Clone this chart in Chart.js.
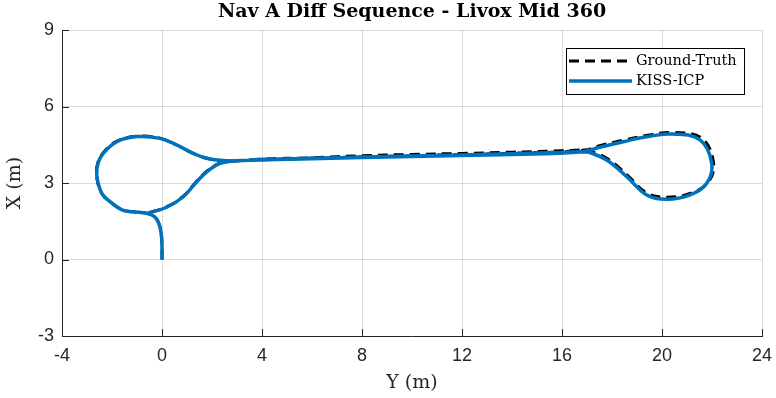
<html>
<head>
    <title>Nav A Diff Sequence</title>
    <style>
        body { margin: 0; background: #fff; }
        #wrap { width: 776px; height: 398px; }
    </style>
</head>
<body>
<div id="wrap"><canvas id="traj" width="776" height="398"></canvas></div>

<script src="https://cdn.jsdelivr.net/npm/chart.js@4.4.1/dist/chart.umd.min.js"></script>
<script>
    // trajectory, [Y (m), X (m)]
    const kiss_y = [0, 0.0, -0.03, -0.12, -0.3, -0.61, -1.15, -1.6, -2.08, -2.41, -2.61, -2.55, -2.35, -1.81, -1.01, -0.08, 0.59, 1.25, 1.79, 2.45, 3.2,
        4, 6, 8, 10, 12, 14, 16, 16.85, 17.12, 17.79, 18.59, 19.39, 20.19, 21.12, 21.79, 21.99, 21.52, 20.45, 19.5, 18.45, 17.5, 16.85,
        14, 10, 6, 3.2, 2.85, 2.32, 1.79, 1.39, 0.85, 0.19, -0.61];
    const kiss_x = [0, 0.5, 1.0, 1.4, 1.68, 1.81, 1.87, 1.95, 2.27, 2.6, 3.31, 3.8, 4.16, 4.62, 4.82, 4.75, 4.49, 4.16, 3.97, 3.88, 3.88,
        3.93, 3.97, 4.02, 4.06, 4.1, 4.15, 4.2, 4.23, 4.19, 3.9, 3.25, 2.53, 2.36, 2.53, 2.99, 3.77, 4.69, 4.92, 4.83, 4.62, 4.4, 4.23,
        4.12, 4.04, 3.95, 3.88, 3.86, 3.77, 3.44, 3.05, 2.46, 2.05, 1.81];

    const gt_y = [0, 0.0, -0.03, -0.12, -0.3, -0.61, -1.15, -1.6, -2.09, -2.42, -2.62, -2.56, -2.36, -1.82, -1.01, -0.08, 0.59, 1.25, 1.79, 2.45, 3.2,
        4, 6, 8, 10, 12, 14, 16, 16.9, 17.15, 17.82, 18.62, 19.4, 20.2, 21.15, 21.85, 22.06, 21.58, 20.45, 19.5, 18.45, 17.5, 16.9,
        14, 10, 6, 3.2, 2.85, 2.31, 1.78, 1.38, 0.84, 0.18, -0.61];
    const gt_x = [0, 0.5, 1.0, 1.4, 1.68, 1.81, 1.87, 1.95, 2.27, 2.6, 3.31, 3.81, 4.17, 4.63, 4.83, 4.76, 4.49, 4.16, 3.97, 3.88, 3.88,
        3.94, 3.99, 4.07, 4.12, 4.16, 4.21, 4.26, 4.29, 4.24, 3.95, 3.3, 2.6, 2.44, 2.6, 3.04, 3.8, 4.76, 4.98, 4.88, 4.68, 4.46, 4.29,
        4.17, 4.07, 3.97, 3.88, 3.86, 3.78, 3.45, 3.06, 2.47, 2.06, 1.81];

    const y_ticks = [-4, 0, 4, 8, 12, 16, 20, 24];
    const x_ticks = [-3, 0, 3, 6, 9];

    const series_labels = ['Ground-Truth', 'KISS-ICP'];

    function pts(a, b) {
        const out = [];
        for (let i = 0; i < a.length; i++) out.push({x: a[i], y: b[i]});
        return out;
    }

    const ink = '#262626';
    const serif = '"DejaVu Serif", serif';
    const sans = '"Liberation Sans", Arial, sans-serif';

    // MATLAB style inner ticks, title and legend box
    const extras = {
        id: 'extras',
        afterDatasetsDraw(chart) {
            const ctx = chart.ctx;
            const a = chart.chartArea;
            const sx = chart.scales.x, sy = chart.scales.y;
            ctx.save();
            ctx.strokeStyle = ink;
            ctx.lineWidth = 1;
            ctx.beginPath();
            y_ticks.forEach(v => {
                const p = Math.round(sx.getPixelForValue(v)) + 0.5;
                ctx.moveTo(p, a.bottom);
                ctx.lineTo(p, a.bottom - 7);
            });
            x_ticks.forEach(v => {
                const p = Math.round(sy.getPixelForValue(v)) + 0.5;
                ctx.moveTo(a.left, p);
                ctx.lineTo(a.left + 7, p);
            });
            ctx.stroke();

            // title
            ctx.fillStyle = '#000';
            ctx.font = 'bold 19px ' + serif;
            ctx.textAlign = 'center';
            ctx.textBaseline = 'middle';
            ctx.fillText('Nav A Diff Sequence - Livox Mid 360', (a.left + a.right) / 2, 12);

            // legend
            const lx = 566, ly = 48, lw = 178, lh = 46;
            ctx.fillStyle = '#fff';
            ctx.fillRect(lx, ly, lw, lh);
            ctx.strokeStyle = '#000';
            ctx.strokeRect(lx + 0.5, ly + 0.5, lw, lh);
            ctx.font = '14.5px ' + serif;
            ctx.textAlign = 'left';
            chart.data.datasets.forEach((ds, i) => {
                const yy = ly + 13 + i * 20;
                ctx.strokeStyle = ds.borderColor;
                ctx.lineWidth = ds.borderWidth;
                ctx.setLineDash(ds.borderDash || []);
                ctx.beginPath();
                ctx.moveTo(lx + 3, yy);
                ctx.lineTo(lx + 66, yy);
                ctx.stroke();
                ctx.setLineDash([]);
                ctx.fillStyle = '#000';
                ctx.fillText(series_labels[i], lx + 70, yy);
            });
            ctx.restore();
        }
    };

    const chart = new Chart(document.getElementById('traj'), {
        type: 'scatter',
        data: {
            datasets: [
                {
                    label: series_labels[0],
                    data: pts(gt_y, gt_x),
                    showLine: true,
                    borderColor: '#000000',
                    borderWidth: 3,
                    borderDash: [10, 6],
                    pointRadius: 0,
                    tension: 0.4,
                    fill: false,
                    order: 2
                },
                {
                    label: series_labels[1],
                    data: pts(kiss_y, kiss_x),
                    showLine: true,
                    borderColor: '#0072BD',
                    borderWidth: 3.5,
                    pointRadius: 0,
                    tension: 0.4,
                    fill: false,
                    order: 1
                }
            ]
        },
        options: {
            responsive: false,
            animation: false,
            layout: {padding: {left: 0, right: 14, top: 30, bottom: 0}},
            plugins: {
                legend: {display: false},
                title: {display: false},
                tooltip: {enabled: false}
            },
            scales: {
                x: {
                    type: 'linear',
                    min: -4, max: 24,
                    afterFit: s => { s.height = 62; s.paddingLeft = 0; s.paddingRight = 0; },
                    afterBuildTicks: s => { s.ticks = y_ticks.map(v => ({value: v})); },
                    grid: {color: 'rgba(0,0,0,0.14)', drawTicks: false},
                    border: {display: true, color: ink, width: 1},
                    ticks: {padding: 9, color: ink, font: {family: sans, size: 18}},
                    title: {display: true, text: 'Y (m)', color: ink, font: {family: serif, size: 19}, padding: {top: 2, bottom: 4}}
                },
                y: {
                    type: 'linear',
                    min: -3, max: 9,
                    afterFit: s => { s.width = 62; s.paddingTop = 0; s.paddingBottom = 0; },
                    afterBuildTicks: s => { s.ticks = x_ticks.map(v => ({value: v})); },
                    grid: {color: 'rgba(0,0,0,0.14)', drawTicks: false},
                    border: {display: true, color: ink, width: 1},
                    ticks: {padding: 8, color: ink, font: {family: sans, size: 18}},
                    title: {display: true, text: 'X (m)', color: ink, font: {family: serif, size: 19}, padding: {top: 4, bottom: 2}}
                }
            }
        },
        plugins: [extras]
    });
</script>
</body>
</html>
